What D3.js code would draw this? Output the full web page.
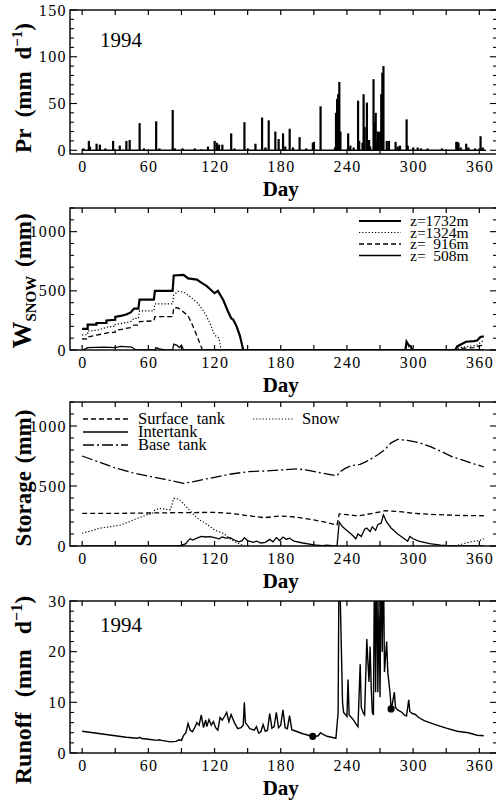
<!DOCTYPE html>
<html>
<head>
<meta charset="utf-8">
<script src="https://cdn.jsdelivr.net/npm/d3@7"></script>
<style>
  body { margin: 0; background: #fff; }
  svg, svg text { font-family: "Liberation Serif", "DejaVu Serif", serif; }
  svg { display: block; }
</style>
</head>
<body>
<svg id="chart" width="496" height="802" font-family="Liberation Serif, DejaVu Serif, serif"></svg>
<script>
// daily precipitation, [day, mm/d]
const precip = [[1,2],[6,10],[7,4],[13,7],[16,6],[21,2],[28,10],[34,5],[40,10],[43,11],[52,29],[56,2],
  [67,31],[70,2],[82,43],[84,2],[91,2],[102,2],[108,1],[114,4],[120,10],[122,8],[124,6],[127,6],
  [135,18],[138,2],[147,30],[150,2],[157,7],[163,35],[166,3],[169,32],[175,20],[178,12],[182,18],
  [184,4],[188,23],[191,3],[197,14],[203,2],[209,8],[210,9],[216,47],[229,3],[230,40],[231,55],
  [232,60],[233,73],[234,20],[241,18],[243,5],[246,3],[250,53],[251,10],[254,8],[255,60],[256,25],
  [258,51],[260,11],[261,4],[264,76],[265,30],[266,40],[267,10],[268,20],[270,20],[271,60],[272,83],
  [273,90],[276,10],[278,10],[284,9],[286,4],[288,5],[294,33],[295,5],[300,3],[304,3],[307,2],
  [313,2],[326,2],[339,9],[340,9],[341,8],[343,3],[348,7],[350,3],[356,2],[360,2],[361,15],[363,3]];

// snow water equivalent by elevation band, [day, mm]
const snow1732 = [[0,178],[5,178],[5,215],[13,215],[13,228],[22,228],[22,250],[30,255],[30,280],[36,290],
  [40,300],[44,318],[47,350],[51,350],[52,425],[65,425],[66,500],[82,500],[83,630],[92,635],[96,605],
  [104,595],[108,570],[113,540],[120,480],[123,500],[128,420],[132,330],[135,270],[137,255],[140,200],
  [143,120],[146,0],[293,0],[294,70],[296,40],[298,30],[299,0],[338,0],[340,30],[344,50],[348,70],
  [355,75],[358,80],[361,110],[364,115]];
const snow1324 = [[0,127],[5,130],[5,160],[14,168],[24,197],[30,200],[30,215],[36,225],[44,240],[47,268],
  [51,268],[52,330],[65,330],[66,390],[82,390],[83,465],[87,495],[92,490],[98,450],[105,394],[110,330],
  [113,282],[117,200],[120,127],[124,100],[126,0],[293,0],[294,40],[297,20],[299,0],[338,0],[342,20],
  [350,30],[358,40],[362,70],[364,80]];
const snow916 = [[0,93],[5,95],[5,110],[14,127],[24,146],[30,150],[30,165],[36,175],[44,190],[47,211],
  [51,211],[52,240],[65,246],[66,282],[82,282],[83,358],[87,355],[92,320],[96,290],[100,211],[104,120],
  [107,50],[109,0],[340,0],[345,15],[355,20],[362,40],[364,45]];
const snow508 = [[0,0],[3,10],[5,20],[20,25],[30,20],[35,30],[45,25],[48,5],[50,0],[66,0],[67,20],
  [70,10],[75,0],[82,0],[83,50],[86,40],[88,20],[90,40],[92,0],[364,0]];

// basin storage, [day, mm]
const surfaceTank = [[0,272],[30,272],[60,275],[90,278],[120,280],[135,272],[150,253],[165,236],[180,250],
  [195,240],[210,217],[222,195],[231,175],[233,267],[240,262],[250,250],[262,270],[275,294],[290,285],
  [300,272],[320,262],[340,255],[364,252]];
const interTank = [[0,0],[85,0],[90,5],[94,20],[96,45],[98,60],[100,50],[104,65],[108,80],[112,75],
  [116,78],[120,70],[124,60],[127,75],[130,65],[134,70],[138,50],[142,35],[145,45],[147,70],[150,45],
  [155,30],[158,40],[162,25],[166,30],[170,55],[173,35],[176,70],[179,45],[182,75],[185,55],[188,65],
  [192,40],[200,25],[210,10],[218,3],[222,8],[226,3],[231,0],[233,200],[236,160],[240,130],[245,90],
  [248,60],[250,100],[253,80],[256,140],[258,150],[261,120],[263,160],[266,130],[268,180],[271,190],
  [273,260],[276,200],[280,150],[286,100],[292,60],[295,40],[297,80],[300,60],[305,40],[315,20],
  [325,8],[335,0],[364,0]];
const baseTank = [[0,750],[15,700],[30,650],[45,612],[60,583],[75,555],[92,522],[100,535],[110,555],
  [120,572],[135,600],[150,619],[165,625],[180,633],[195,643],[205,630],[215,612],[225,595],[231,586],
  [234,620],[238,645],[244,670],[252,680],[260,715],[268,760],[274,800],[280,860],[286,889],[295,880],
  [305,862],[315,830],[325,790],[335,745],[345,715],[355,685],[364,660]];
const snowStore = [[0,106],[8,125],[15,147],[25,160],[35,175],[42,200],[50,231],[56,250],[60,267],
  [63,265],[66,300],[70,314],[76,305],[80,303],[83,397],[88,390],[93,340],[100,272],[106,220],[112,189],
  [120,133],[128,106],[134,60],[140,27],[147,0],[338,0],[342,10],[348,25],[355,40],[360,45],[364,60]];

// runoff, [day, mm/d]
const runoff = [[0,4.3],[10,4.0],[20,3.7],[30,3.4],[40,3.1],[50,2.9],[52,3.1],[54,2.85],[60,2.7],[68,2.5],
  [70,2.6],[72,2.5],[80,2.2],[85,2.3],[88,2.6],[90,2.5],[92,3.5],[94,4.0],[96,5.8],[98,4.5],[100,4.2],
  [102,5.0],[104,6.0],[106,5.5],[108,7.5],[110,5.0],[112,6.5],[113,5.2],[115,6.6],[117,5.5],[119,6.2],
  [121,5.0],[123,4.5],[125,7.0],[127,6.5],[129,7.2],[131,8.0],[133,6.2],[135,7.6],[138,6.0],[141,4.8],
  [144,5.0],[146,5.5],[147,10.0],[148,6.0],[152,4.8],[156,4.5],[158,5.2],[160,3.9],[162,4.2],[164,5.6],
  [166,4.3],[168,4.5],[170,7.8],[172,4.9],[174,5.2],[176,8.0],[178,5.0],[180,5.5],[182,8.5],[184,5.0],
  [186,4.8],[188,7.4],[190,4.6],[195,4.2],[200,3.8],[205,3.5],[210,3.2],[214,3.4],[216,4.0],[218,3.7],
  [222,3.3],[226,3.1],[230,2.9],[232,8],[233,45],[234,30],[235,20],[236,10],[237,8],[239,7.5],[240,7.2],
  [241,14.5],[242,7.5],[244,7.0],[246,6.5],[248,5.8],[250,5.2],[252,17.5],[253,9],[255,7.8],[256,7.5],
  [258,22.5],[259,18],[260,14],[261,21],[262,13],[263,8],[264,7.5],[265,40],[266,12],[267,40],[268,12],
  [269,30],[270,11],[271,40],[272,20],[273,40],[274,16],[276,22],[277,16],[279,12],[280,9],[281,9.5],
  [283,12],[284,9],[286,8.5],[290,8],[292,7.5],[294,7.3],[296,10.5],[297,8.2],[299,7.8],[302,7.6],
  [305,7.0],[310,6.4],[320,5.6],[330,4.9],[340,4.3],[350,4.0],[358,3.5],[364,3.4]];
const runoffDots = [[209,3.3],[280,8.7]];

const dayTicks = d3.range(0, 361, 30);
const dayLabels = [0, 60, 120, 180, 240, 300, 360];

const FONT = "Liberation Serif, DejaVu Serif, serif";
const svg = d3.select("#chart");
svg.append("rect").attr("width", 496).attr("height", 802).attr("fill", "#fff");

const x = d3.scaleLinear().domain([-11, 376]).range([70, 497]);

function txt(sel) {
  return sel.append("text").attr("font-family", FONT);
}

// draws frame, ticks and labels for one panel and returns its y scale
function panel(cfg) {
  const y = d3.scaleLinear().domain(cfg.domain).range([cfg.bottom, cfg.top]);
  const g = svg.append("g");
  const x0 = x.range()[0], x1 = x.range()[1];

  g.append("rect")
    .attr("x", x0).attr("y", cfg.top)
    .attr("width", x1 - x0).attr("height", cfg.bottom - cfg.top)
    .attr("fill", "none").attr("stroke", "#000").attr("stroke-width", 1.4);

  dayTicks.forEach(d => {
    g.append("line").attr("x1", x(d)).attr("x2", x(d))
      .attr("y1", cfg.bottom).attr("y2", cfg.bottom - 5)
      .attr("stroke", "#000").attr("stroke-width", 1.2);
    g.append("line").attr("x1", x(d)).attr("x2", x(d))
      .attr("y1", cfg.top).attr("y2", cfg.top + 5)
      .attr("stroke", "#000").attr("stroke-width", 1.2);
  });

  dayLabels.forEach(d => {
    txt(g).attr("x", x(d) + 0.7).attr("y", cfg.bottom + 18)
      .attr("text-anchor", "middle").attr("font-size", 16).attr("letter-spacing", 1.4)
      .text(d);
  });

  txt(g).attr("x", x(180)).attr("y", cfg.bottom + 42)
    .attr("text-anchor", "middle").attr("font-size", 21).attr("font-weight", "bold")
    .text("Day");

  const lo = Math.max(0, cfg.domain[0]), hi = cfg.domain[1];
  const eps = 1e-6;
  d3.range(lo, hi + eps, cfg.minor).forEach(v => {
    const major = Math.abs(v / cfg.major - Math.round(v / cfg.major)) < eps;
    const len = major ? 7 : 4;
    g.append("line").attr("x1", x0).attr("x2", x0 + len)
      .attr("y1", y(v)).attr("y2", y(v)).attr("stroke", "#000").attr("stroke-width", 1.1);
    g.append("line").attr("x1", x1).attr("x2", x1 - len)
      .attr("y1", y(v)).attr("y2", y(v)).attr("stroke", "#000").attr("stroke-width", 1.1);
  });

  cfg.labels.forEach(d => {
    txt(g).attr("x", 67).attr("y", y(d)).attr("dy", "0.35em")
      .attr("text-anchor", "end").attr("font-size", 16).attr("letter-spacing", 1.4)
      .text(d);
  });

  const t = txt(g)
    .attr("transform", `translate(31,${cfg.titleY}) rotate(-90)`)
    .attr("text-anchor", "middle").attr("font-size", cfg.titleSize || 23)
    .attr("font-weight", "bold").attr("word-spacing", cfg.wordSpacing || 0);
  cfg.title(t);
  return y;
}

function line(y) {
  return d3.line().x(d => x(d[0])).y(d => y(d[1]));
}

function clipTo(id, top, bottom) {
  svg.append("clipPath").attr("id", id).append("rect")
    .attr("x", 70).attr("y", top).attr("width", 427).attr("height", bottom - top);
  return `url(#${id})`;
}

function addYear(y) {
  txt(svg).attr("x", 100).attr("y", y).attr("font-size", 21).text("1994");
}

// ---- Panel 1: precipitation
const yPr = panel({
  top: 10, bottom: 154, domain: [-4, 150], minor: 10, major: 50,
  labels: [0, 50, 100, 150], titleY: 88, wordSpacing: 6,
  title: t => {
    t.append("tspan").text("Pr (mm d");
    t.append("tspan").attr("dy", -9).attr("font-size", 15).text("\u22121");
    t.append("tspan").attr("dy", 9).text(")");
  }
});
svg.append("line").attr("x1", x(0)).attr("x2", x(366))
  .attr("y1", yPr(0)).attr("y2", yPr(0)).attr("stroke", "#000").attr("stroke-width", 1.5);
svg.append("g").selectAll("rect").data(precip).enter().append("rect")
  .attr("x", d => x(d[0]) - 1).attr("width", 2.2)
  .attr("y", d => yPr(d[1])).attr("height", d => yPr(0) - yPr(d[1]))
  .attr("fill", "#000");
addYear(47);

// ---- Panel 2: snow water equivalent
const ySn = panel({
  top: 208, bottom: 350, domain: [0, 1200], minor: 100, major: 500,
  labels: [0, 500, 1000], titleY: 281, wordSpacing: 3,
  title: t => {
    t.append("tspan").attr("font-size", 27).text("W");
    t.append("tspan").attr("dy", 5).attr("font-size", 15).text("SNOW");
    t.append("tspan").attr("dy", -5).text(" (mm)");
  }
});
const snowSeries = [
  { data: snow1732, label: "z=1732m", width: 2.2, dash: null },
  { data: snow1324, label: "z=1324m", width: 1.2, dash: "1.2,2" },
  { data: snow916,  label: "z=  916m", width: 1.3, dash: "5,3" },
  { data: snow508,  label: "z=  508m", width: 1.3, dash: null }
];
const clipSn = clipTo("clipSn", 208, 350);
snowSeries.forEach((s, i) => {
  svg.append("path").datum(s.data).attr("d", line(ySn))
    .attr("fill", "none").attr("stroke", "#000").attr("stroke-width", s.width)
    .attr("stroke-dasharray", s.dash).attr("clip-path", clipSn);
  const ly = 221 + i * 11.5;
  svg.append("line").attr("x1", 359).attr("x2", 401).attr("y1", ly).attr("y2", ly)
    .attr("stroke", "#000").attr("stroke-width", s.width).attr("stroke-dasharray", s.dash);
  txt(svg).attr("x", 410).attr("y", ly).attr("dy", "0.33em")
    .attr("font-size", 15.5).attr("xml:space", "preserve").style("white-space", "pre")
    .text(s.label);
});

// ---- Panel 3: storage
const ySt = panel({
  top: 402, bottom: 546, domain: [0, 1200], minor: 100, major: 500,
  labels: [0, 500, 1000], titleY: 478, wordSpacing: 2,
  title: t => t.text("Storage (mm)")
});
const storeSeries = [
  { data: surfaceTank, label: "Surface  tank", width: 1.3, dash: "5,3", lx: 83, ly: 419, len: 45, gap: 55 },
  { data: interTank,   label: "Intertank",     width: 1.3, dash: null,  lx: 83, ly: 432, len: 45, gap: 55 },
  { data: baseTank,    label: "Base  tank",    width: 1.3, dash: "11,3,2,3", lx: 83, ly: 445, len: 45, gap: 55 },
  { data: snowStore,   label: "Snow",          width: 1.2, dash: "1.2,2", lx: 253, ly: 419, len: 40, gap: 49 }
];
const clipSt = clipTo("clipSt", 402, 546);
storeSeries.forEach(s => {
  svg.append("path").datum(s.data).attr("d", line(ySt))
    .attr("fill", "none").attr("stroke", "#000").attr("stroke-width", s.width)
    .attr("stroke-dasharray", s.dash).attr("clip-path", clipSt);
  svg.append("line").attr("x1", s.lx).attr("x2", s.lx + s.len).attr("y1", s.ly).attr("y2", s.ly)
    .attr("stroke", "#000").attr("stroke-width", s.width).attr("stroke-dasharray", s.dash);
  txt(svg).attr("x", s.lx + s.gap).attr("y", s.ly).attr("dy", "0.33em")
    .attr("font-size", 16.5).attr("xml:space", "preserve").style("white-space", "pre")
    .text(s.label);
});

// ---- Panel 4: runoff
const yRo = panel({
  top: 601, bottom: 753, domain: [0, 30], minor: 2, major: 10,
  labels: [0, 10, 20, 30], titleY: 690, titleSize: 24, wordSpacing: 9,
  title: t => {
    t.append("tspan").text("Runoff (mm d");
    t.append("tspan").attr("dy", -9).attr("font-size", 16).text("\u22121");
    t.append("tspan").attr("dy", 9).text(")");
  }
});
const clipRo = clipTo("clipRo", 601, 753);
svg.append("path").datum(runoff).attr("d", line(yRo))
  .attr("fill", "none").attr("stroke", "#000").attr("stroke-width", 1.4)
  .attr("clip-path", clipRo);
svg.append("g").selectAll("circle").data(runoffDots).enter().append("circle")
  .attr("cx", d => x(d[0])).attr("cy", d => yRo(d[1])).attr("r", 3.6).attr("fill", "#000");
addYear(632);
</script>
</body>
</html>
